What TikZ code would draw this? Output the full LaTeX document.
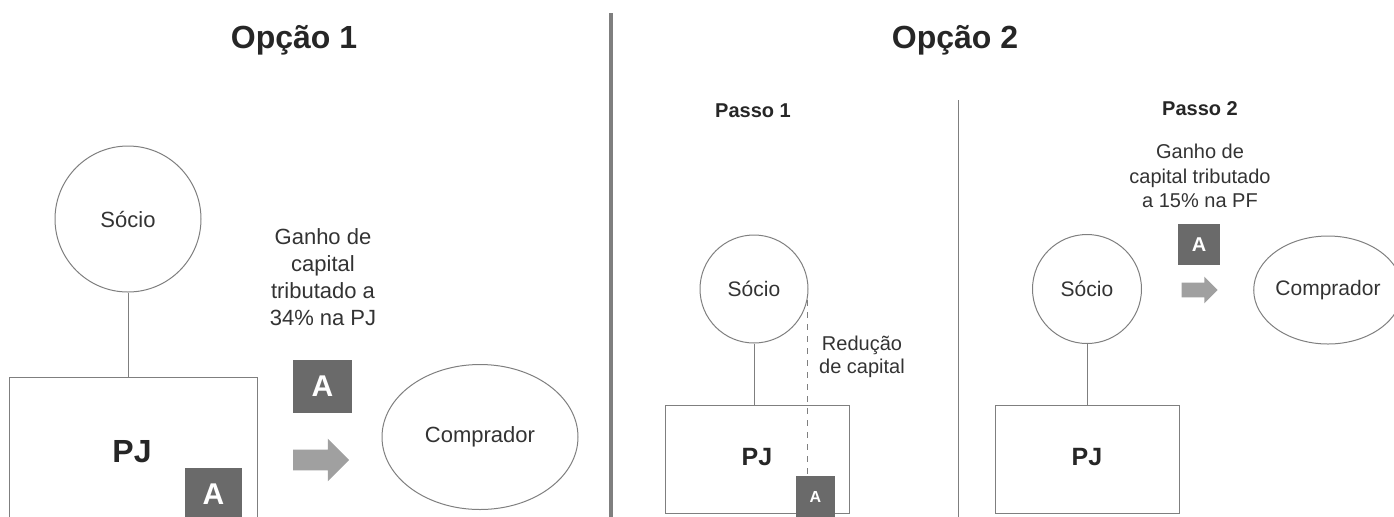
\documentclass[tikz,border=0pt]{standalone}
\usepackage{fontspec}
\setmainfont{Liberation Sans}
\usetikzlibrary{shapes.geometric,shapes.arrows}
\definecolor{linegray}{HTML}{7F7F7F}
\definecolor{textgray}{HTML}{333333}
\definecolor{boxgray}{HTML}{6A6A6A}
\definecolor{arrowgray}{HTML}{A0A0A0}

\begin{document}
\begin{tikzpicture}[
  x=0.5pt,
  y=-0.5pt,
  every node/.style={inner sep=0pt,text=textgray},
  title/.style={font=\fontsize{16}{20}\selectfont\bfseries,text=black!85},
  passo/.style={font=\fontsize{10}{12}\selectfont\bfseries,text=black!85},
  party/.style={draw=linegray,line width=0.5pt,circle,minimum size=#1},
  buyer/.style={draw=linegray,line width=0.5pt,ellipse},
  firm/.style={draw=linegray,line width=0.5pt,rectangle},
  abox/.style={fill=boxgray,text=white,font=\bfseries},
  flow/.style={single arrow,fill=arrowgray,inner xsep=0pt,single arrow head extend=#1},
  edge/.style={linegray,line width=0.5pt}
]
\useasboundingbox (0,0) rectangle (1394,516);
\clip (0,0) rectangle (1394,516);

% Titles and dividers
\node[title] (opt1) at (294,40) {Opção 1};
\node[title] (opt2) at (955,40) {Opção 2};
\coordinate (divtop) at (611,13);
\coordinate (divbot) at (611,520);
\draw[linegray,line width=2pt] (divtop) -- (divbot);

% Option 1
\node[party=73pt,font=\fontsize{11}{13}\selectfont] (socio) at (128,219) {Sócio};
\node[firm,minimum width=124pt,minimum height=91.5pt] (pjbox) at (133,468.5) {};
\node[font=\fontsize{16}{18}\selectfont\bfseries,text=black!85] (pj) at (132,452) {PJ};
\node[abox,minimum width=28.5pt,minimum height=26.5pt,font=\fontsize{15}{17}\selectfont\bfseries] (apj) at (213.5,494.5) {A};
\draw[edge] (socio.south) -- (socio.south |- pjbox.north);

\node[align=center,font=\fontsize{11}{13.5}\selectfont] (gain1) at (323,277)
  {Ganho de\\capital\\tributado a\\34\% na PJ};
\node[abox,minimum width=29.5pt,minimum height=26.5pt,font=\fontsize{15}{17}\selectfont\bfseries] (aprice) at (322.5,386.5) {A};
\node[flow=5.5pt,inner ysep=5pt,minimum height=28pt] (arr1) at (316,460) {};
\node[buyer,minimum width=98pt,minimum height=72.5pt,font=\fontsize{11}{13}\selectfont] (buyer1) at (480,437) {Comprador};

% Option 2, step 1
\coordinate (steptop) at (958,100);
\coordinate (stepbot) at (958,520);
\draw[linegray,line width=0.5pt] (steptop) -- (stepbot);
\node[passo] (passo1) at (753,111) {Passo 1};
\node[party=54pt,font=\fontsize{10.5}{12}\selectfont] (socioa) at (754,289) {Sócio};
\node[firm,minimum width=92pt,minimum height=54pt] (pjboxa) at (757,459) {};
\node[font=\fontsize{12.5}{14}\selectfont\bfseries,text=black!85] (pja) at (757,457) {PJ};
\node[abox,minimum width=19.5pt,minimum height=20.5pt,font=\fontsize{8}{9}\selectfont\bfseries] (aboxa) at (815.5,496.5) {A};
\draw[edge] (socioa.south) -- (socioa.south |- pjboxa.north);
\draw[edge,dashed] (socioa.-12) -- (socioa.-12 |- aboxa.north);
\node[align=center,font=\fontsize{10}{11.5}\selectfont] (reducao) at (862,357)
  {Redução\\de capital};

% Option 2, step 2
\node[passo] (passo2) at (1200,109) {Passo 2};
\node[align=center,font=\fontsize{10}{12.3}\selectfont] (gain2) at (1200,176)
  {Ganho de\\capital tributado\\a 15\% na PF};
\node[abox,minimum width=21pt,minimum height=20.5pt,font=\fontsize{10}{12}\selectfont\bfseries] (aboxb) at (1199,244.5) {A};
\node[flow=3pt,inner ysep=3.5pt,minimum height=18pt] (arr2) at (1196,290) {};
\node[party=54.5pt,font=\fontsize{10.5}{12}\selectfont] (sociob) at (1087,289) {Sócio};
\node[firm,minimum width=92pt,minimum height=54pt] (pjboxb) at (1087,459) {};
\node[font=\fontsize{12.5}{14}\selectfont\bfseries,text=black!85] (pjb) at (1087,457) {PJ};
\draw[edge] (sociob.south) -- (sociob.south |- pjboxb.north);
\node[buyer,minimum width=71pt,minimum height=54pt,font=\fontsize{10.5}{12}\selectfont] (buyer2) at (1328,290) {Comprador};
\end{tikzpicture}
\end{document}
